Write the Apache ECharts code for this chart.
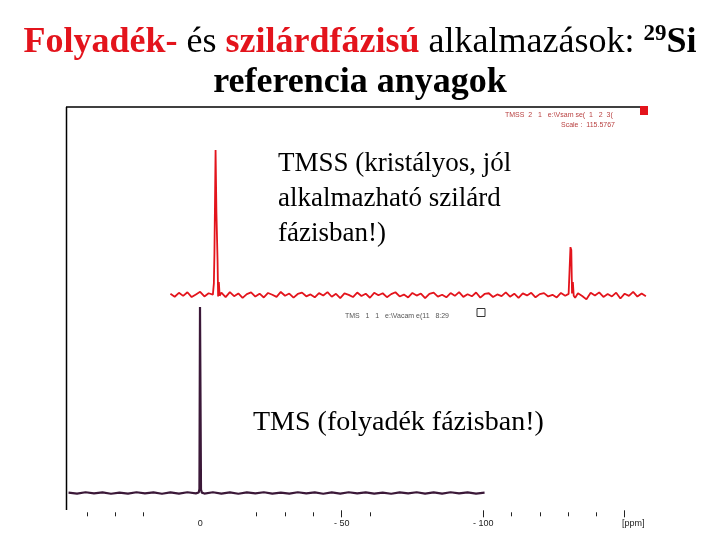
<!DOCTYPE html>
<html>
<head>
<meta charset="utf-8">
<title>29Si referencia anyagok</title>
<script src="https://cdn.jsdelivr.net/npm/echarts@6/dist/echarts.min.js"></script>
<style>
  html, body { margin: 0; padding: 0; background: #fff; }
  #chart { width: 720px; height: 540px; }
</style>
</head>
<body>
<div id="chart"></div>
<script>
// TMSS spectrum (solid phase) : [ppm, relative intensity]
const tmssSpectrum = [
  [10.5, 0.8], [9, -1.2], [7.5, 1.5], [6, -0.6], [4.5, 1.9], [3, -1.4], [1.5, 0.4], [0, 2.2],
  [-1.5, -1.0], [-3, 1.2], [-4.5, 0.3], [-4.85, 8], [-5.05, 29], [-5.45, 100], [-5.75, 57],
  [-6.15, 24], [-6.35, -1], [-6.6, 9], [-6.9, -0.5], [-7.5, 1.6], [-9, -1.5], [-10.5, 2.0],
  [-12, -0.8], [-13.5, 1.1], [-15, -2.0], [-16.5, 0.6], [-18, 1.8], [-19.5, -1.1], [-21, 0.9],
  [-22.5, -1.7], [-24, 1.4], [-25.5, 0.2], [-27, -1.3], [-28.5, 2.1], [-30, -0.5], [-31.5, 1.0],
  [-33, -1.8], [-34.5, 0.7], [-36, 1.6], [-37.5, -0.9], [-39, 0.4], [-40.5, -1.6], [-42, 1.3],
  [-43.5, -0.3], [-45, 2.0], [-46.5, -1.2], [-48, 0.8], [-49.5, -2.1], [-51, 1.1], [-52.5, 0.1],
  [-54, -1.4], [-55.5, 1.7], [-57, -0.7], [-58.5, 0.9], [-60, -1.9], [-61.5, 1.5], [-63, -0.2],
  [-64.5, 1.2], [-66, -1.5], [-67.5, 0.6], [-69, 1.9], [-70.5, -1.0], [-72, 0.3], [-73.5, -1.7],
  [-75, 1.4], [-76.5, -0.4], [-78, 1.0], [-79.5, -2.2], [-81, 0.8], [-82.5, 1.6], [-84, -1.1],
  [-85.5, 0.2], [-87, -1.6], [-88.5, 1.3], [-90, -0.6], [-91.5, 2.0], [-93, -1.3], [-94.5, 0.5],
  [-96, -0.9], [-97.5, 1.7], [-99, -1.8], [-100.5, 0.7], [-102, 1.2], [-103.5, -1.4], [-105, 0.4],
  [-106.5, -0.8], [-108, 1.8], [-109.5, -1.2], [-111, 0.9], [-112.5, -2.0], [-114, 1.1],
  [-115.5, -0.3], [-117, 1.5], [-118.5, -1.6], [-120, 0.6], [-121.5, 1.3], [-123, -1.0],
  [-124.5, 0.1], [-126, -1.7], [-127.5, 1.4], [-129, -0.5], [-130.2, 0.8], [-130.55, 18],
  [-130.85, 33], [-131.15, 31], [-131.4, 1], [-131.7, 9], [-132, -0.5], [-132.5, -1.9],
  [-133.5, 1.2], [-135, -0.7], [-136.5, -3.0], [-138, 1.5], [-139.5, -0.4], [-141, 1.8],
  [-142.5, -1.3], [-144, 0.7], [-145.5, -1.0], [-147, 1.6], [-148.5, -2.4], [-150, 0.9],
  [-151.5, -0.6], [-153, 2.2], [-154.5, -1.1], [-156, 1.0], [-157.5, -0.8]
];

// TMS spectrum (liquid phase) : [ppm, relative intensity]
const tmsSpectrum = [
  [46.5, 0.2], [43.5, -0.3], [40.5, 0.4], [37.5, -0.2], [34.5, 0.3], [31.5, -0.4], [28.5, 0.2],
  [25.5, -0.3], [22.5, 0.4], [19.5, -0.2], [16.5, 0.3], [13.5, -0.4], [10.5, 0.3], [7.5, -0.3],
  [4.5, 0.4], [1.5, -0.2], [0.5, 0.3], [0.25, 2.2], [0.05, 100], [-0.1, 100], [-0.3, 1.8],
  [-0.6, 0.2], [-1.5, -0.3], [-4.5, 0.4], [-7.5, -0.3], [-10.5, 0.3], [-13.5, -0.4], [-16.5, 0.3],
  [-19.5, -0.2], [-22.5, 0.4], [-25.5, -0.3], [-28.5, 0.2], [-31.5, -0.3], [-34.5, 0.4],
  [-37.5, -0.2], [-40.5, 0.3], [-43.5, -0.4], [-46.5, 0.3], [-49.5, -0.3], [-52.5, 0.4],
  [-55.5, -0.2], [-58.5, 0.3], [-61.5, -0.3], [-64.5, 0.2], [-67.5, -0.4], [-70.5, 0.3],
  [-73.5, -0.2], [-76.5, 0.4], [-79.5, -0.3], [-82.5, 0.3], [-85.5, -0.3], [-88.5, 0.4],
  [-91.5, -0.2], [-94.5, 0.3], [-97.5, -0.3], [-100.5, 0.2]
];

// ppm scale ticks
const majorTicks = [-50, -100, -150];
const minorTicks = [40, 30, 20, -20, -30, -40, -60, -110, -120, -130, -140];
const tickLabels = [0, -50, -100, -150];
const tickLabelText = ['0', '- 50', '- 100', '[ppm]'];

const RED = '#e3141c';
const SERIF = '"Liberation Serif", "Times New Roman", serif';
const SANS = '"Liberation Sans", Arial, sans-serif';

const chart = echarts.init(document.getElementById('chart'));

const option = {
  animation: false,
  backgroundColor: '#fff',
  title: {
    left: 'center',
    top: 18,
    text: '{r|Folyadék-} {n|és} {r|szilárdfázisú} {n|alkalmazások:} {sup|29}{b|Si}\n{b|referencia anyagok}',
    textStyle: {
      fontFamily: SERIF,
      fontSize: 36,
      lineHeight: 40,
      rich: {
        r: { color: RED, fontWeight: 'bold', fontFamily: SERIF, fontSize: 36, lineHeight: 40 },
        n: { color: '#000', fontWeight: 'normal', fontFamily: SERIF, fontSize: 36, lineHeight: 40 },
        b: { color: '#000', fontWeight: 'bold', fontFamily: SERIF, fontSize: 36, lineHeight: 40 },
        sup: { color: '#000', fontWeight: 'bold', fontFamily: SERIF, fontSize: 23, lineHeight: 24, verticalAlign: 'top' }
      }
    }
  },
  grid: [
    { left: 66, width: 581.3, top: 150, height: 152.25 },
    { left: 66, width: 581.3, top: 307, height: 195.3 }
  ],
  xAxis: [
    { gridIndex: 0, type: 'value', inverse: true, min: -158, max: 47.4, show: false },
    {
      gridIndex: 1, type: 'value', inverse: true, min: -158, max: 47.4,
      position: 'bottom',
      offset: 8,
      axisLine: { show: false, onZero: false },
      splitLine: { show: false },
      axisTick: { customValues: majorTicks, length: 7, inside: false, lineStyle: { color: '#222', width: 1 } },
      axisLabel: {
        customValues: tickLabels,
        margin: 9,
        fontFamily: SANS,
        fontSize: 9,
        color: '#222',
        formatter: function (v) {
          const i = tickLabels.indexOf(v);
          if (i === 3) return '{u|' + tickLabelText[i] + '}';
          return i >= 0 ? tickLabelText[i] : '';
        },
        rich: { u: { fontFamily: SANS, fontSize: 9, color: '#222', padding: [0, 0, 0, 17] } }
      }
    },
    {
      gridIndex: 1, type: 'value', inverse: true, min: -158, max: 47.4,
      position: 'bottom',
      offset: 10,
      axisLine: { show: false, onZero: false },
      splitLine: { show: false },
      axisTick: { customValues: minorTicks, length: 4, inside: false, lineStyle: { color: '#222', width: 1 } },
      axisLabel: { show: false }
    }
  ],
  yAxis: [
    { gridIndex: 0, type: 'value', min: -5, max: 100, show: false },
    { gridIndex: 1, type: 'value', min: -5, max: 100, show: false }
  ],
  series: [
    {
      name: 'TMSS',
      type: 'line',
      xAxisIndex: 0,
      yAxisIndex: 0,
      data: tmssSpectrum,
      showSymbol: false,
      lineStyle: { color: RED, width: 1.8 }
    },
    {
      name: 'TMS',
      type: 'line',
      xAxisIndex: 1,
      yAxisIndex: 1,
      data: tmsSpectrum,
      showSymbol: false,
      lineStyle: { color: '#3b1838', width: 2.2 }
    }
  ],
  graphic: [
    // spectrum frame
    { type: 'line', shape: { x1: 66, y1: 107, x2: 640, y2: 107 }, style: { stroke: '#000', lineWidth: 1.5 } },
    { type: 'line', shape: { x1: 66.5, y1: 107, x2: 66.5, y2: 510 }, style: { stroke: '#000', lineWidth: 1.5 } },
    { type: 'rect', shape: { x: 640, y: 106, width: 8, height: 9 }, style: { fill: RED } },
    // acquisition headers
    { type: 'text', x: 505, y: 115, style: { text: 'TMSS  2   1   e:\\Vsam se(  1   2  3(', fontSize: 7, fontFamily: SANS, fill: '#b84040', verticalAlign: 'middle' } },
    { type: 'text', x: 561, y: 125.5, style: { text: 'Scale :  115.5767', fontSize: 7, fontFamily: SANS, fill: '#b84040', verticalAlign: 'middle' } },
    { type: 'text', x: 345, y: 316, style: { text: 'TMS   1   1   e:\\Vacam e(11   8:29', fontSize: 7, fontFamily: SANS, fill: '#555', verticalAlign: 'middle' } },
    { type: 'rect', shape: { x: 477, y: 308.5, width: 8, height: 8 }, style: { fill: 'none', stroke: '#333', lineWidth: 1 } },
    // annotations
    {
      type: 'text', x: 278, y: 146.5,
      style: {
        text: 'TMSS (kristályos, jól\nalkalmazható szilárd\nfázisban!)',
        fontFamily: SERIF, fontSize: 27, lineHeight: 35, fill: '#000', verticalAlign: 'top'
      }
    },
    {
      type: 'text', x: 253, y: 405.5,
      style: {
        text: 'TMS (folyadék fázisban!)',
        fontFamily: SERIF, fontSize: 28, lineHeight: 35, fill: '#000', verticalAlign: 'top'
      }
    }
  ]
};

chart.setOption(option);
</script>
</body>
</html>
